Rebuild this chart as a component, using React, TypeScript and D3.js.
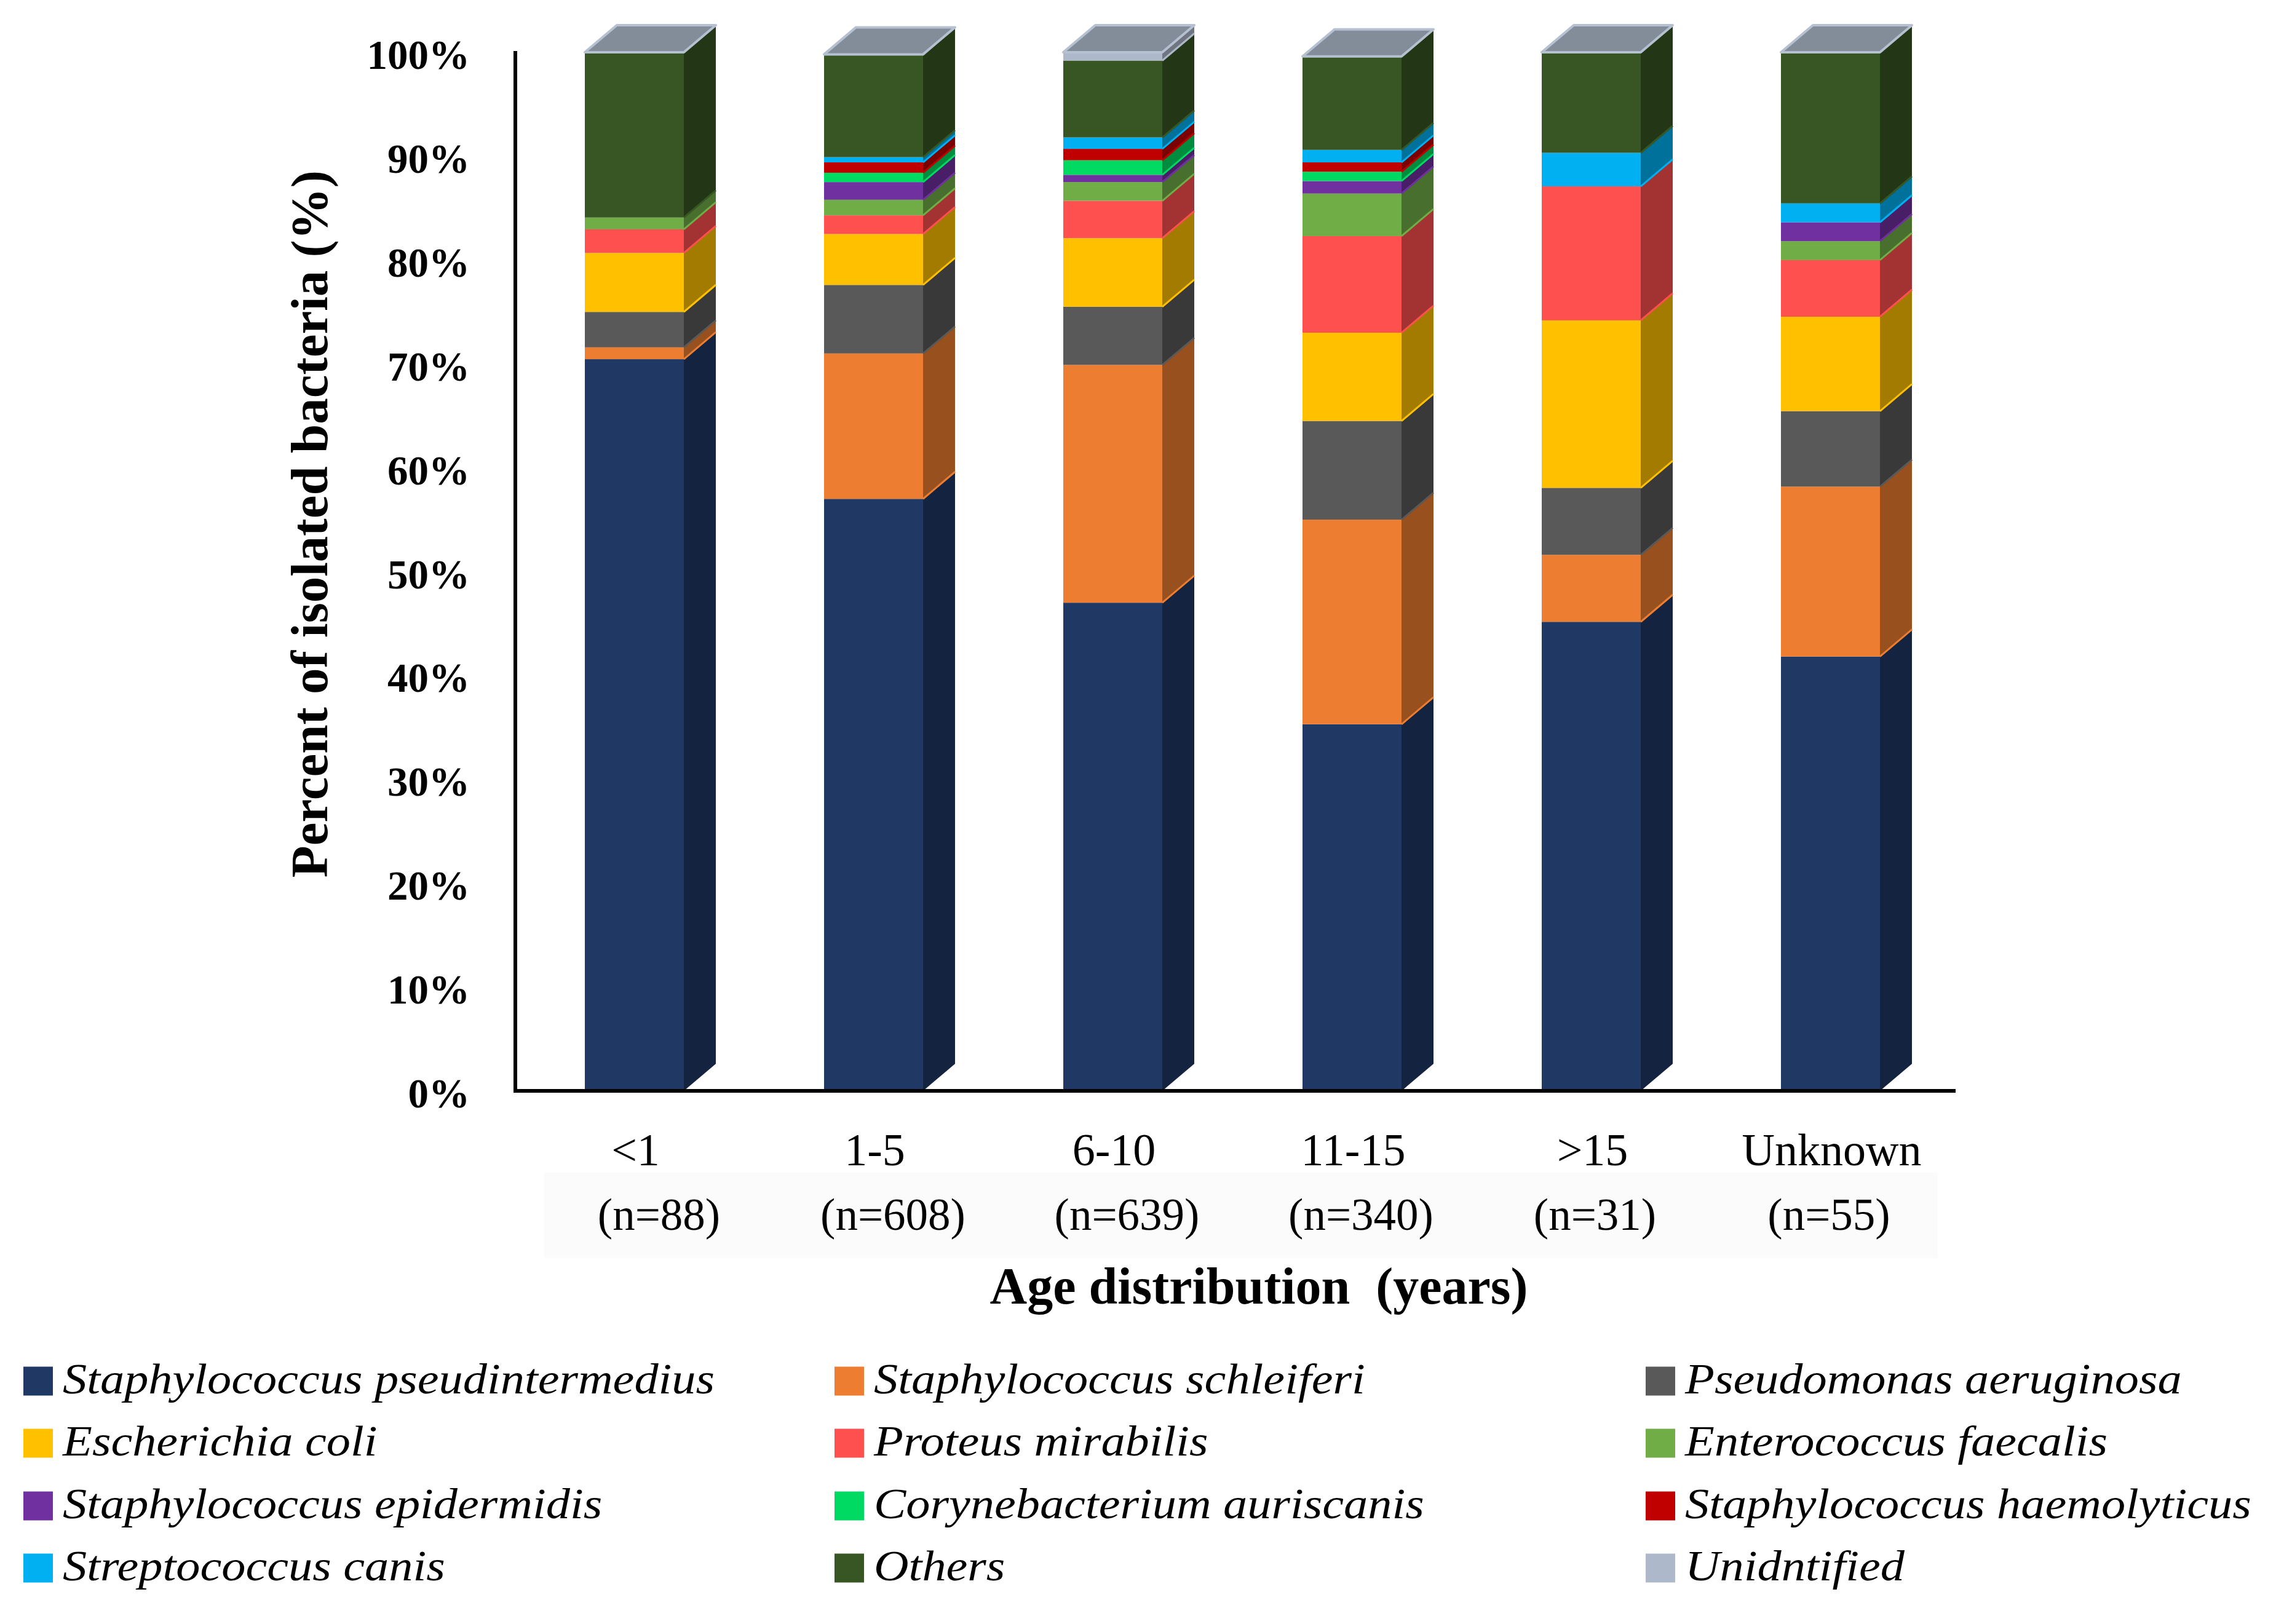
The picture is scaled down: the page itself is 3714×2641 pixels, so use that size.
import React from "react";
import * as d3 from "d3";

const categories = ["<1", "1-5", "6-10", "11-15", ">15", "Unknown"];
const sampleSizes = ["(n=88)", "(n=608)", "(n=639)", "(n=340)", "(n=31)", "(n=55)"];

const seriesNames = [
  "Staphylococcus pseudintermedius",
  "Staphylococcus schleiferi",
  "Pseudomonas aeruginosa",
  "Escherichia coli",
  "Proteus mirabilis",
  "Enterococcus faecalis",
  "Staphylococcus epidermidis",
  "Corynebacterium auriscanis",
  "Staphylococcus haemolyticus",
  "Streptococcus canis",
  "Others",
  "Unidntified",
];

const seriesColors = [
  "#1F3864", "#ED7D31", "#595959", "#FFC000", "#FF5050", "#70AD47",
  "#7030A0", "#00DA63", "#C00000", "#00B0F0", "#375623", "#ADB9CA",
];

// percent of isolated bacteria per age group
const pseudintermedius = [70.45, 57.0, 47.0, 35.3, 45.16, 41.82];
const schleiferi = [1.14, 14.0, 22.9, 19.7, 6.45, 16.36];
const pseudomonas = [3.41, 6.6, 5.6, 9.5, 6.45, 7.27];
const ecoli = [5.68, 4.9, 6.6, 8.5, 16.13, 9.09];
const proteus = [2.27, 1.8, 3.6, 9.3, 12.9, 5.45];
const enterococcus = [1.14, 1.5, 1.8, 4.1, 0, 1.82];
const epidermidis = [0, 1.7, 0.7, 1.2, 0, 1.82];
const corynebacterium = [0, 0.9, 1.4, 0.9, 0, 0];
const haemolyticus = [0, 1.0, 1.1, 0.9, 0, 0];
const streptococcus = [0, 0.5, 1.1, 1.2, 3.23, 1.82];
const others = [15.91, 9.9, 7.4, 9.0, 9.68, 14.55];
const unidentified = [0, 0, 0.8, 0, 0, 0];

const seriesValues = [
  pseudintermedius, schleiferi, pseudomonas, ecoli, proteus, enterococcus,
  epidermidis, corynebacterium, haemolyticus, streptococcus, others, unidentified,
];

const yTicks = [0, 10, 20, 30, 40, 50, 60, 70, 80, 90, 100];

const W = 3714;
const H = 2641;
const FONT = "'Liberation Serif', 'Times New Roman', serif";

function shade(c: string, k: number) {
  const r = d3.rgb(c);
  return d3.rgb(r.r * k, r.g * k, r.b * k).formatHex();
}

export default function App() {
  const rows = categories.map((c, i) => {
    const o: any = { cat: c };
    seriesNames.forEach((s, j) => (o[s] = seriesValues[j][i]));
    return o;
  });
  const stacked = d3.stack<any>().keys(seriesNames)(rows);

  const y = d3.scaleLinear().domain([0, 100]).range([1774, 85]);
  const x = d3.scaleBand<string>().domain(categories).range([837, 837 + 389 * 6]);
  const barW = 161;
  const dx = 52;
  const dy = 44;
  const axisX = 838;
  const axisY = y(0);

  const bars: JSX.Element[] = [];
  categories.forEach((cat, i) => {
    const cx = (x(cat) as number) + x.bandwidth() / 2;
    const x0 = cx - barW / 2;
    const x1 = x0 + barW;
    stacked.forEach((layer, s) => {
      const [v0, v1] = layer[i];
      if (v1 - v0 <= 0) return;
      const yb = y(v0);
      const yt = y(v1);
      const col = seriesColors[s];
      bars.push(
        <g key={`seg-${i}-${s}`}>
          <rect x={x0} y={yt} width={barW} height={yb - yt} fill={col} />
          <polygon
            points={`${x1},${yb} ${x1 + dx},${yb - dy} ${x1 + dx},${yt - dy} ${x1},${yt}`}
            fill={shade(col, 0.64)}
          />
          {v0 > 0 && (
            <line x1={x1} y1={yb} x2={x1 + dx} y2={yb - dy} stroke={col} strokeWidth={3} />
          )}
        </g>
      );
    });
    const top = stacked[stacked.length - 1][i][1];
    const ytop = y(top);
    bars.push(
      <polygon
        key={`top-${i}`}
        points={`${x0},${ytop} ${x0 + dx},${ytop - dy} ${x1 + dx},${ytop - dy} ${x1},${ytop}`}
        fill={shade(seriesColors[11], 0.76)}
        stroke="#B5C1D0"
        strokeWidth={4}
        strokeLinejoin="round"
      />
    );
  });

  const legendCols = [38, 1357, 2676];
  const legendRows = [2246, 2347, 2449, 2550];

  return (
    <svg
      width={W}
      height={H}
      viewBox={`0 0 ${W} ${H}`}
      style={{ position: "absolute", left: 0, top: 0, background: "#fff" }}
      fontFamily={FONT}
    >
      <rect x={0} y={0} width={W} height={H} fill="#fff" />
      {/* label background */}
      <rect x={885} y={1907} width={3151 - 885} height={2046 - 1907} fill="#FBFBFB" />

      {bars}

      {/* axes */}
      <line x1={axisX} y1={83} x2={axisX} y2={axisY + 3} stroke="#000" strokeWidth={6} />
      <line x1={axisX - 3} y1={axisY} x2={3180} y2={axisY} stroke="#000" strokeWidth={6} />

      {yTicks.map((t) => (
        <text
          key={`yt-${t}`}
          x={764}
          y={y(t) + 27}
          textAnchor="end"
          fontSize={67}
          fontWeight="bold"
          fill="#000"
        >
          {t}%
        </text>
      ))}

      <text
        transform={`translate(532, 852) rotate(-90)`}
        textAnchor="middle"
        fontSize={85}
        fontWeight="bold"
        fill="#000"
      >
        Percent of isolated bacteria (%)
      </text>

      {categories.map((c, i) => {
        const cx = (x(c) as number) + x.bandwidth() / 2;
        return (
          <g key={`xl-${i}`}>
            <text x={cx + 2} y={1895} textAnchor="middle" fontSize={74} fill="#000">
              {c}
            </text>
            <text x={cx + 40 - 8.5 * i} y={2000} textAnchor="middle" fontSize={73} fill="#000">
              {sampleSizes[i]}
            </text>
          </g>
        );
      })}

      <text
        x={2047}
        y={2120}
        textAnchor="middle"
        fontSize={84}
        fontWeight="bold"
        fill="#000"
        style={{ whiteSpace: "pre" }}
      >
        {"Age distribution  (years)"}
      </text>

      {seriesNames.map((name, k) => {
        const col = legendCols[k % 3];
        const row = legendRows[Math.floor(k / 3)];
        return (
          <g key={`lg-${k}`}>
            <rect x={col} y={row - 23.5} width={48} height={47} fill={seriesColors[k]} />
            <text
              transform={`translate(${col + 64}, ${row + 20}) scale(1.12, 1)`}
              fontSize={70}
              fontStyle="italic"
              fill="#000"
            >
              {name}
            </text>
          </g>
        );
      })}
    </svg>
  );
}
